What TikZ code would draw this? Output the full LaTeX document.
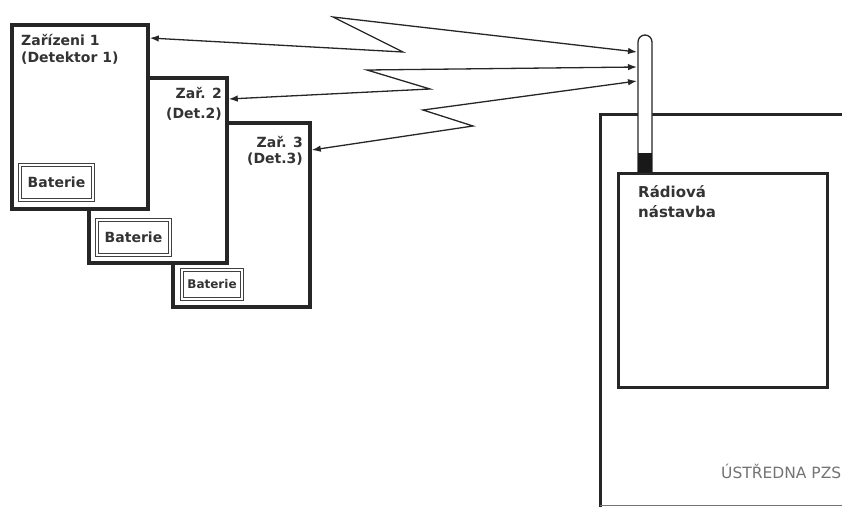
\documentclass[tikz,border=0pt]{standalone}
\usepackage{fontspec}
\setmainfont{DejaVu Sans}
\usetikzlibrary{arrows.meta}

\begin{document}
\begin{tikzpicture}[x=1pt,y=-1pt,
  dev/.style={draw=black!85,line width=3.5pt,fill=white,inner sep=0pt},
  bat/.style={draw=black!75,double=white,double distance=1.4pt,line width=0.9pt,inner sep=0pt,text=black!80,font=\bfseries\fontsize{14}{17}\selectfont},
  lbl/.style={inner sep=0pt,text=black!80,font=\bfseries\fontsize{14}{17}\selectfont},
  radio/.style={black!85,line width=1.3pt,{Latex[length=9pt,width=6.5pt]}-{Latex[length=9pt,width=6.5pt]}}]
\useasboundingbox (0,0) rectangle (842,507);
\clip (0,0) rectangle (842,507);
\node[dev,minimum width=137pt,minimum height=184pt] (zar3) at (241.5,215) {};
\node[dev,minimum width=138pt,minimum height=185pt] (zar2) at (158,170.5) {};
\node[dev,minimum width=136pt,minimum height=184pt] (zar1) at (80,117) {};
\node[bat,minimum width=73pt,minimum height=35pt] (bat1) at (56.5,182.5) {Baterie};
\node[bat,minimum width=73pt,minimum height=35pt] (bat2) at (133.5,237.5) {Baterie};
\node[bat,minimum width=60pt,minimum height=29pt,font=\bfseries\fontsize{12}{14}\selectfont] (bat3) at (212,284.5) {Baterie};
\node[lbl,anchor=north west,align=left] (lbl1) at (21,34) {Zařízeni 1\\(Detektor 1)};
\node[lbl,anchor=north east,align=right,font=\bfseries\fontsize{14}{20}\selectfont] (lbl2) at (222,87) {Zař. 2\\(Det.2)};
\node[lbl,anchor=north east,align=right,font=\bfseries\fontsize{14}{16}\selectfont] (lbl3) at (303,136) {Zař. 3\\(Det.3)};
\draw[black!85,line width=3pt] (600,507) |- (860,114);
\draw[black!55,line width=1pt] (600,505) -- (860,505);
\node[dev,line width=3pt,minimum width=209pt,minimum height=214pt] (nastavba) at (722.5,280) {};
\node[lbl,anchor=north west,align=left,font=\bfseries\fontsize{15}{20}\selectfont] (lblRadio) at (638,185) {Rádiová\\nástavba};
\node[inner sep=0pt,anchor=base west,text=black!55,font=\fontsize{15.5}{18}\selectfont] (lblUstr) at (721,478) {ÚSTŘEDNA PZS};
\draw[black!85,line width=1.3pt,fill=white] (638,173) -- (638,42) arc[start angle=180,end angle=0,radius=7pt] -- (652,173) -- cycle;
\fill[black!90] (638,153) rectangle (652,173);
\coordinate (ant1) at (637,52);
\coordinate (ant2) at (637,67);
\coordinate (ant3) at (637,81);
\draw[radio] (zar1.east |- 0,38) -- (403,52) -- (333,17) -- (ant1);
\draw[radio] (zar2.east |- 0,99) -- (430,89) -- (367,70) -- (ant2);
\draw[radio] (zar3.east |- 0,150) -- (473,126) -- (423,110) -- (ant3);
\end{tikzpicture}
\end{document}
